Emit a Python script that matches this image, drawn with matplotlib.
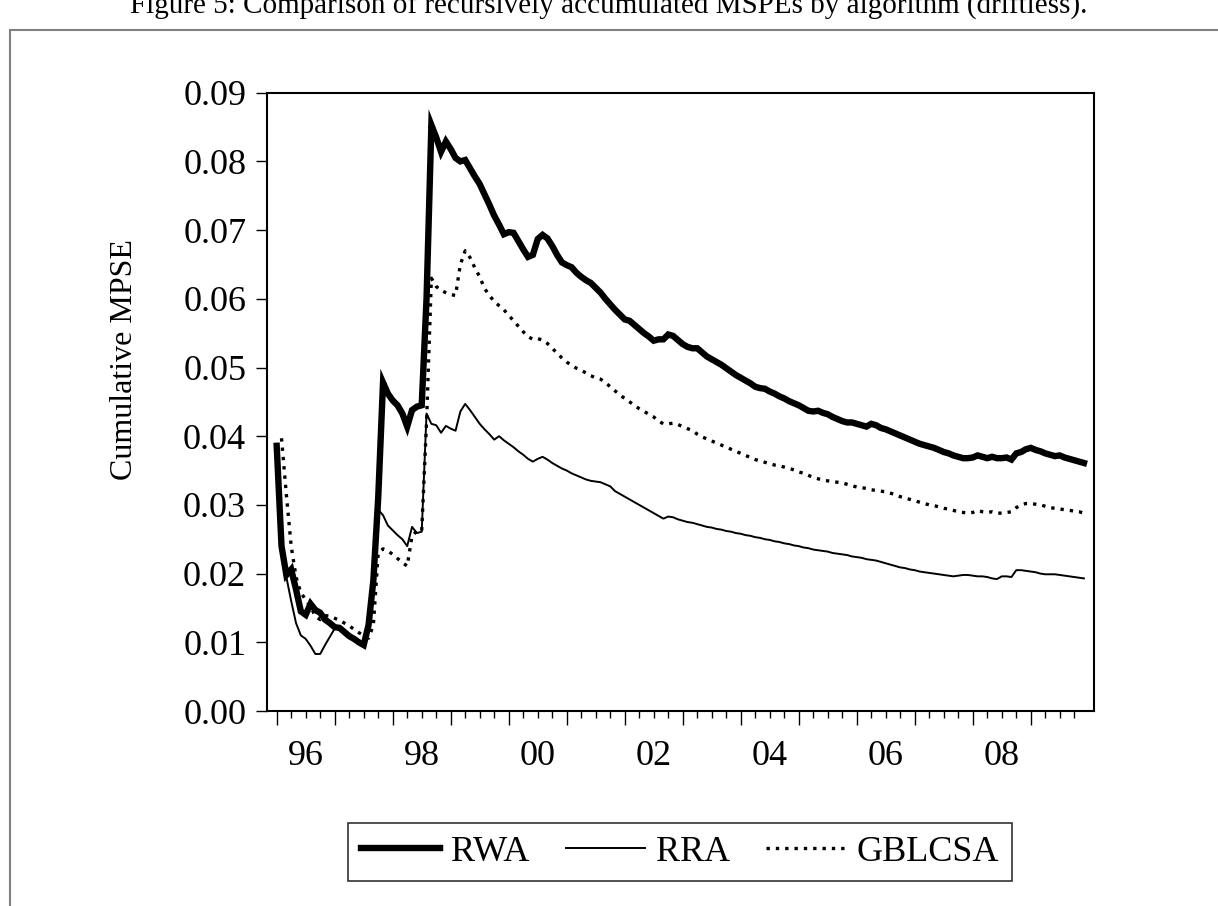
import numpy as np
import matplotlib
matplotlib.use("Agg")
import matplotlib.pyplot as plt
from matplotlib.patches import Rectangle

plt.rcParams['font.family'] = ['Liberation Serif', 'DejaVu Serif']

# ---------------- data (monthly, 1996M1 - 2009M12) ----------------
start_year = 1996
n_months = 168

rwa = [
    0.0386, 0.0240, 0.0198, 0.0206, 0.0177, 0.0145, 0.0140, 0.0156, 0.0147, 0.0143,
    0.0133, 0.0128, 0.0122, 0.0121, 0.0115, 0.0109, 0.0105, 0.0100, 0.0096, 0.0125,
    0.0190, 0.0310, 0.0478, 0.0462, 0.0452, 0.0445, 0.0433, 0.0414, 0.0438, 0.0443,
    0.0445, 0.0600, 0.0853, 0.0835, 0.0814, 0.0829, 0.0818, 0.0805, 0.0800, 0.0802,
    0.0790, 0.0778, 0.0767, 0.0752, 0.0737, 0.0721, 0.0708, 0.0694, 0.0697, 0.0696,
    0.0684, 0.0672, 0.0661, 0.0664, 0.0687, 0.0693, 0.0688, 0.0677, 0.0664, 0.0653,
    0.0649, 0.0646, 0.0638, 0.0632, 0.0627, 0.0623, 0.0616, 0.0609, 0.0600, 0.0592,
    0.0584, 0.0577, 0.0570, 0.0568, 0.0562, 0.0556, 0.0550, 0.0545, 0.0539, 0.0541,
    0.0541, 0.0548, 0.0546, 0.0540, 0.0534, 0.0530, 0.0528, 0.0528, 0.0522, 0.0516,
    0.0512, 0.0508, 0.0504, 0.0499, 0.0494, 0.0489, 0.0485, 0.0481, 0.0477, 0.0472,
    0.0470, 0.0469, 0.0465, 0.0462, 0.0458, 0.0455, 0.0451, 0.0448, 0.0445, 0.0441,
    0.0437, 0.0436, 0.0437, 0.0434, 0.0432, 0.0428, 0.0425, 0.0422, 0.0420, 0.0420,
    0.0418, 0.0416, 0.0414, 0.0418, 0.0416, 0.0412, 0.0410, 0.0407, 0.0404, 0.0401,
    0.0398, 0.0395, 0.0392, 0.0389, 0.0387, 0.0385, 0.0383, 0.0380, 0.0377, 0.0375,
    0.0372, 0.0370, 0.0368, 0.0368, 0.0369, 0.0372, 0.0370, 0.0368, 0.0370, 0.0368,
    0.0368, 0.0369, 0.0366, 0.0375, 0.0377, 0.0381, 0.0383, 0.0380, 0.0378, 0.0375,
    0.0373, 0.0371, 0.0372, 0.0369, 0.0367, 0.0365, 0.0363, 0.0361,
]

rra = [
    0.0385, 0.0235, 0.0195, 0.0160, 0.0128, 0.0110, 0.0105, 0.0095, 0.0083, 0.0083,
    0.0096, 0.0108, 0.0120, 0.0121, 0.0115, 0.0110, 0.0106, 0.0101, 0.0097, 0.0125,
    0.0190, 0.0293, 0.0285, 0.0270, 0.0263, 0.0256, 0.0250, 0.0240, 0.0268, 0.0259,
    0.0261, 0.0433, 0.0418, 0.0416, 0.0405, 0.0415, 0.0411, 0.0408, 0.0436, 0.0447,
    0.0438, 0.0428, 0.0418, 0.0410, 0.0403, 0.0395, 0.0400, 0.0394, 0.0389, 0.0384,
    0.0378, 0.0373, 0.0367, 0.0363, 0.0367, 0.0370, 0.0366, 0.0361, 0.0357, 0.0353,
    0.0350, 0.0346, 0.0343, 0.0340, 0.0337, 0.0335, 0.0334, 0.0333, 0.0330, 0.0327,
    0.0320, 0.0316, 0.0312, 0.0308, 0.0304, 0.0300, 0.0296, 0.0292, 0.0288, 0.0284,
    0.0280, 0.0283, 0.0282, 0.0279, 0.0277, 0.0275, 0.0274, 0.0272, 0.0270, 0.0268,
    0.0267, 0.0265, 0.0264, 0.0262, 0.0261, 0.0259, 0.0258, 0.0256, 0.0255, 0.0253,
    0.0252, 0.0250, 0.0249, 0.0247, 0.0246, 0.0244, 0.0243, 0.0241, 0.0240, 0.0238,
    0.0237, 0.0235, 0.0234, 0.0233, 0.0232, 0.0230, 0.0229, 0.0228, 0.0227, 0.0225,
    0.0224, 0.0223, 0.0221, 0.0220, 0.0219, 0.0217, 0.0215, 0.0213, 0.0211, 0.0209,
    0.0208, 0.0206, 0.0205, 0.0203, 0.0202, 0.0201, 0.0200, 0.0199, 0.0198, 0.0197,
    0.0196, 0.0197, 0.0198, 0.0198, 0.0197, 0.0196, 0.0196, 0.0195, 0.0193, 0.0192,
    0.0196, 0.0196, 0.0195, 0.0205, 0.0205, 0.0204, 0.0203, 0.0202, 0.0200, 0.0199,
    0.0199, 0.0199, 0.0198, 0.0197, 0.0196, 0.0195, 0.0194, 0.0193,
]

gblcsa = [
    np.nan, 0.0397, 0.0315, 0.0240, 0.0195, 0.0172, 0.0162, 0.0152, 0.0138, 0.0133,
    0.0139, 0.0138, 0.0135, 0.0132, 0.0128, 0.0124, 0.0119, 0.0114, 0.0110, 0.0106,
    0.0125, 0.0230, 0.0236, 0.0233, 0.0228, 0.0222, 0.0216, 0.0211, 0.0255, 0.0262,
    0.0262, 0.0420, 0.0630, 0.0618, 0.0612, 0.0609, 0.0606, 0.0605, 0.0650, 0.0670,
    0.0660, 0.0645, 0.0632, 0.0615, 0.0605, 0.0596, 0.0590, 0.0584, 0.0576, 0.0568,
    0.0560, 0.0552, 0.0545, 0.0541, 0.0542, 0.0540, 0.0535, 0.0528, 0.0521, 0.0514,
    0.0508, 0.0503, 0.0499, 0.0496, 0.0492, 0.0488, 0.0485, 0.0483, 0.0478, 0.0472,
    0.0466, 0.0460, 0.0455, 0.0450, 0.0445, 0.0440, 0.0436, 0.0432, 0.0428, 0.0422,
    0.0418, 0.0418, 0.0419, 0.0417, 0.0414, 0.0411, 0.0408, 0.0403, 0.0399, 0.0396,
    0.0393, 0.0390, 0.0387, 0.0384, 0.0381, 0.0378, 0.0375, 0.0372, 0.0369, 0.0366,
    0.0364, 0.0362, 0.0360, 0.0358, 0.0357, 0.0355, 0.0353, 0.0351, 0.0348, 0.0346,
    0.0343, 0.0340, 0.0338, 0.0336, 0.0335, 0.0334, 0.0333, 0.0332, 0.0330, 0.0328,
    0.0326, 0.0325, 0.0324, 0.0322, 0.0321, 0.0320, 0.0319, 0.0317, 0.0315, 0.0312,
    0.0310, 0.0308, 0.0306, 0.0304, 0.0302, 0.0300, 0.0299, 0.0297, 0.0295, 0.0294,
    0.0292, 0.0290, 0.0289, 0.0288, 0.0289, 0.0292, 0.0290, 0.0289, 0.0290, 0.0288,
    0.0288, 0.0289, 0.0290, 0.0296, 0.0300, 0.0302, 0.0302, 0.0301, 0.0300, 0.0298,
    0.0296, 0.0295, 0.0294, 0.0293, 0.0292, 0.0291, 0.0290, 0.0288,
]

series_names = ['RWA', 'RRA', 'GBLCSA']
label_years = [1996, 1998, 2000, 2002, 2004, 2006, 2008]
year_labels = ['96', '98', '00', '02', '04', '06', '08']
y_ticks = [0.00, 0.01, 0.02, 0.03, 0.04, 0.05, 0.06, 0.07, 0.08, 0.09]
title_text = "Figure 5: Comparison of recursively accumulated MSPEs by algorithm (driftless)."
y_label = "Cumulative MPSE"

# ---------------- figure ----------------
dates = start_year + np.arange(n_months) / 12.0

fig = plt.figure(figsize=(12.18, 9.06), dpi=100)
ax = fig.add_axes([267/1218, 1 - 711/906, (1094-267)/1218, (711-92.7)/906])

ax.plot(dates, rwa, color='black', lw=4.6, solid_joinstyle='miter', label=series_names[0])
ax.plot(dates, rra, color='black', lw=1.4, label=series_names[1])
ax.plot(dates, gblcsa, color='black', lw=2.4, linestyle=(0, (1.0, 1.8)), label=series_names[2])

ax.set_xlim(1995.833, 2010.09)
ax.set_ylim(0, 0.09)

ax.set_yticks(y_ticks)
ax.set_yticklabels([f"{v:.2f}" for v in y_ticks])
ax.tick_params(axis='y', direction='out', length=8, width=1, pad=7, labelsize=26)

years = np.arange(1996, 2010)
quarters = np.array([y + q / 4 for y in years for q in (1, 2, 3)])
ax.set_xticks(years)
ax.set_xticklabels([])
ax.set_xticks(quarters, minor=True)
ax.tick_params(axis='x', which='major', direction='out', length=10, width=1)
ax.tick_params(axis='x', which='minor', direction='out', length=5, width=1)

sec = ax.secondary_xaxis('bottom')
sec.set_xticks(np.array(label_years) + 0.5, year_labels)
sec.tick_params(length=0, pad=21, labelsize=26)
sec.spines['bottom'].set_visible(False)

for s in ax.spines.values():
    s.set_linewidth(1.5)

ax.set_ylabel(y_label, fontsize=23)
ax.yaxis.set_label_coords(-0.155, 0.568)

leg = fig.legend(loc='center', bbox_to_anchor=(680/1218, 1 - 852/906), ncol=3,
                 frameon=True, fancybox=False, edgecolor='black', fontsize=26,
                 handlelength=2.2, handletextpad=0.3, columnspacing=1.0,
                 borderpad=0.35)
leg.get_frame().set_linewidth(1.2)

fig.text(0.5, 1 - 14/906, title_text, ha='center', va='baseline', fontsize=21)
fig.add_artist(Rectangle((10/1218, -0.05), 1.2, 1 - 30/906 + 0.05,
                         transform=fig.transFigure, fill=False,
                         edgecolor='#808080', lw=1.5))

fig.savefig('out.png', dpi=100)
